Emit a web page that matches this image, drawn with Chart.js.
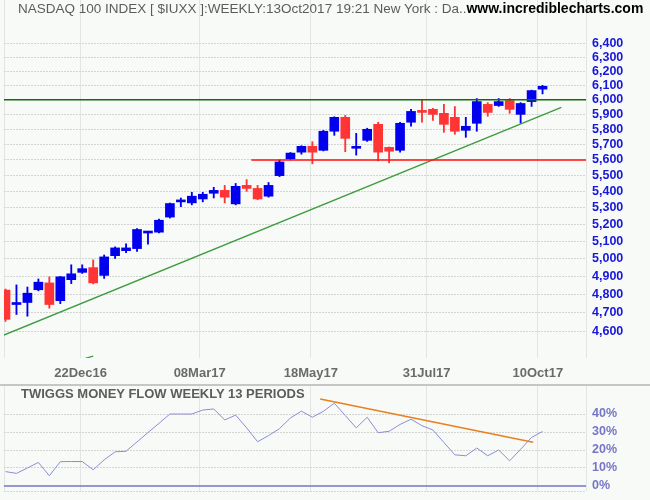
<!DOCTYPE html>
<html>
<head>
<meta charset="utf-8">
<script src="https://cdn.jsdelivr.net/npm/chart.js@4.4.1/dist/chart.umd.min.js"></script>
<style>
  html, body { margin: 0; padding: 0; background: #f8faf8; }
  #wrap { position: relative; width: 650px; height: 500px; overflow: hidden; font-family: 'Liberation Sans', Arial, sans-serif; }
  #priceBox { position: absolute; left: 0; top: 0; width: 650px; height: 384px; }
  #sep { position: absolute; left: 0; top: 384px; width: 650px; height: 2px; background: #c6c6c6; }
  #flowBox { position: absolute; left: 0; top: 386px; width: 650px; height: 114px; }
  .ttl { position: absolute; white-space: nowrap; line-height: 16px; z-index: 2; }
  #t1 { left: 18px; top: 0; font-size: 13.5px; color: #5c5c5c; }
  #t1 b { color: #000; font-size: 14px; }
  #t2 { left: 21px; top: 386px; font-size: 13px; font-weight: bold; color: #5c5c5c; }
</style>
</head>
<body>
<div id="wrap">
  <div class="ttl" id="t1">NASDAQ 100 INDEX [ $IUXX ]:WEEKLY:13Oct2017 19:21 New York : Da..<b>www.incrediblecharts.com</b></div>
  <div id="priceBox"><canvas id="priceChart" width="650" height="384"></canvas></div>
  <div id="sep"></div>
  <div class="ttl" id="t2">TWIGGS MONEY FLOW WEEKLY 13 PERIODS</div>
  <div id="flowBox"><canvas id="flowChart" width="650" height="114"></canvas></div>
</div>
<script>
// weekly bars, week ending
const weeks = [
  '2016-11-04', '2016-11-11', '2016-11-18', '2016-11-25', '2016-12-02', '2016-12-09', '2016-12-16', '2016-12-23',
  '2016-12-30', '2017-01-06', '2017-01-13', '2017-01-20', '2017-01-27', '2017-02-03', '2017-02-10', '2017-02-17',
  '2017-02-24', '2017-03-03', '2017-03-10', '2017-03-17', '2017-03-24', '2017-03-31', '2017-04-07', '2017-04-14',
  '2017-04-21', '2017-04-28', '2017-05-05', '2017-05-12', '2017-05-19', '2017-05-26', '2017-06-02', '2017-06-09',
  '2017-06-16', '2017-06-23', '2017-06-30', '2017-07-07', '2017-07-14', '2017-07-21', '2017-07-28', '2017-08-04',
  '2017-08-11', '2017-08-18', '2017-08-25', '2017-09-01', '2017-09-08', '2017-09-15', '2017-09-22', '2017-09-29',
  '2017-10-06', '2017-10-13'
];
const opens = [
  4824, 4745, 4756, 4826, 4864, 4766, 4882, 4923, 4950, 4906, 5018, 5047, 5059, 5150, 5155, 5245,
  5337, 5331, 5355, 5390, 5408, 5325, 5439, 5420, 5372, 5500, 5606, 5650, 5688, 5662, 5787, 5880,
  5675, 5727, 5833, 5681, 5662, 5847, 5927, 5934, 5907, 5880, 5793, 5840, 5968, 5960, 5994, 5900,
  5987, 6073
];
const highs = [
  4830, 4853, 4841, 4886, 4898, 4900, 4966, 4966, 4994, 5022, 5069, 5086, 5177, 5160, 5233, 5330,
  5361, 5396, 5396, 5427, 5439, 5451, 5475, 5439, 5457, 5600, 5648, 5692, 5718, 5793, 5884, 5893,
  5773, 5807, 5847, 5684, 5847, 5934, 6002, 5941, 5968, 5953, 5880, 6008, 5980, 6008, 6008, 5980,
  6066, 6100
];
const lows = [
  4654, 4691, 4682, 4820, 4725, 4750, 4860, 4917, 4858, 4889, 5002, 5036, 5042, 5085, 5150, 5239,
  5308, 5319, 5337, 5361, 5331, 5319, 5402, 5350, 5366, 5494, 5600, 5637, 5575, 5658, 5760, 5653,
  5631, 5720, 5594, 5581, 5650, 5820, 5847, 5860, 5780, 5767, 5747, 5787, 5887, 5954, 5907, 5840,
  5954, 6040
];
const closes = [
  4665, 4755, 4807, 4868, 4745, 4898, 4915, 4944, 4864, 5011, 5063, 5063, 5171, 5158, 5226, 5327,
  5349, 5372, 5384, 5408, 5366, 5433, 5420, 5355, 5439, 5587, 5644, 5688, 5650, 5787, 5880, 5740,
  5681, 5800, 5650, 5656, 5840, 5920, 5913, 5900, 5833, 5787, 5820, 5987, 5913, 5987, 5934, 5974,
  6063, 6093
];
// Twiggs money flow, %
const moneyFlow = [
  8.0, 7.0, 10.0, 13.1, 5.7, 13.5, 13.6, 13.6, 9.0, 14.5, 19.0, 19.3, 24.5, 29.7, 34.8, 40.0,
  40.0, 40.0, 42.2, 42.8, 36.7, 39.4, 32.3, 24.6, 28.0, 31.9, 37.8, 41.6, 38.2, 41.5, 46.0, 39.2,
  32.3, 38.2, 29.6, 30.4, 34.2, 37.1, 33.5, 31.1, 24.2, 17.3, 16.8, 21.1, 16.8, 20.0, 14.0, 20.4,
  27.0, 30.3
];

const priceTicks = [4600, 4700, 4800, 4900, 5000, 5100, 5200, 5300, 5400, 5500, 5600, 5700, 5800, 5900, 6000, 6100, 6200, 6300, 6400];
const flowTicks = [0, 10, 20, 30, 40];
const dateTicks = ['2016-12-22', '2017-03-08', '2017-05-18', '2017-07-31', '2017-10-10'];
const dateTickLabels = ['22Dec16', '08Mar17', '18May17', '31Jul17', '10Oct17'];

// drawn lines: [date, value]
const resistance = [['2016-11-01', 6000], ['2017-11-15', 6000]];
const support = [['2017-04-10', 5600], ['2017-11-15', 5600]];
const trendLine = [['2016-11-03', 4582], ['2017-10-25', 5948]];
const lowerStub = [['2016-12-25', 4461], ['2016-12-30', 4473]];
const flowTrend = [['2017-05-24', 48.3], ['2017-10-07', 24.3]];
const flowZero = [['2016-11-01', 0], ['2017-11-15', 0]];

const FONT = "'Liberation Sans', Arial, sans-serif";
const BLUE = '#0000ee';
const RED = '#ff3535';
const DAY = 86400000;
const toDay = (s) => Date.parse(s) / DAY;
const pts = (arr) => arr.map(([d, v]) => ({ x: toDay(d), y: v }));

// 4px left margin, 582px plot, about 10.96px per week
const xMin = toDay(weeks[0]) - 0.96;
const xMax = xMin + 582 * 7 / 10.96;

function xAxis(showLabels, height) {
  return {
    type: 'linear',
    min: xMin,
    max: xMax,
    offset: false,
    grid: { color: '#e3e5e3', offset: false, drawTicks: false },
    border: { display: false },
    ticks: {
      display: showLabels,
      autoSkip: false,
      maxRotation: 0,
      padding: 8,
      color: '#6a6a6a',
      font: { family: FONT, size: 13, weight: 'bold' },
      callback: (v, i) => (i > 0 && i <= dateTickLabels.length ? dateTickLabels[i - 1] : ''),
    },
    afterBuildTicks: (s) => {
      s.ticks = [xMin, ...dateTicks.map(toDay), xMax].map((v) => ({ value: v }));
    },
    afterFit: (s) => {
      s.height = height;
      s.paddingLeft = 0;
      s.paddingRight = 0;
    },
  };
}

function lineSet(data, color, width) {
  return {
    type: 'line',
    data: pts(data),
    borderColor: color,
    borderWidth: width,
    pointRadius: 0,
    tension: 0,
    order: 0,
  };
}

const candleColors = closes.map((c, i) => (c >= opens[i] ? BLUE : RED));
const bodies = weeks.map((d, i) => ({ x: toDay(d), y: [opens[i], closes[i]] }));
const wicks = weeks.map((d, i) => ({ x: toDay(d), y: [lows[i], highs[i]] }));

new Chart(document.getElementById('priceChart'), {
  type: 'bar',
  data: {
    datasets: [
      lineSet(resistance, '#0d6e0d', 1.5),
      lineSet(support, '#ff1010', 1.5),
      lineSet(trendLine, '#3c9c3c', 1.3),
      lineSet(lowerStub, '#3c9c3c', 1.3),
      {
        label: 'body',
        data: bodies,
        backgroundColor: candleColors,
        barThickness: 9,
        minBarLength: 2,
        grouped: false,
        order: 1,
      },
      {
        label: 'wick',
        data: wicks,
        backgroundColor: candleColors,
        barThickness: 1.2,
        grouped: false,
        order: 2,
      },
    ],
  },
  options: {
    responsive: false,
    animation: false,
    layout: { padding: { left: 4, top: 0, right: 0, bottom: 0 } },
    plugins: { legend: { display: false }, tooltip: { enabled: false } },
    scales: {
      x: xAxis(true, 26),
      y: {
        type: 'logarithmic',
        position: 'right',
        min: 4463,
        max: 6726,
        grid: { color: '#d3d5d3', drawTicks: false },
        border: { display: false, dash: [2, 1] },
        ticks: {
          autoSkip: false,
          padding: 6,
          color: '#1616dc',
          font: { family: FONT, size: 12.5, weight: 'bold' },
          callback: (v) => Number(v).toLocaleString('en-US'),
        },
        afterBuildTicks: (s) => {
          s.ticks = priceTicks.map((v) => ({ value: v }));
        },
        afterFit: (s) => {
          s.width = 64;
          s.paddingTop = 0;
          s.paddingBottom = 0;
        },
      },
    },
  },
});

const flowMin = -2.78;
new Chart(document.getElementById('flowChart'), {
  type: 'line',
  data: {
    datasets: [
      {
        data: weeks.map((d, i) => ({ x: toDay(d), y: moneyFlow[i] })),
        borderColor: '#8c8cd6',
        borderWidth: 1,
        pointRadius: 0,
        tension: 0,
        order: 1,
      },
      lineSet(flowZero, '#7676c6', 1.5),
      lineSet(flowTrend, '#e8801e', 1.5),
    ],
  },
  options: {
    responsive: false,
    animation: false,
    layout: { padding: { left: 4, top: 0, right: 0, bottom: 0 } },
    plugins: { legend: { display: false }, tooltip: { enabled: false } },
    scales: {
      x: xAxis(false, 9),
      y: {
        type: 'linear',
        position: 'right',
        min: flowMin,
        max: 55.56,
        grid: {
          color: (c) => (c.tick && c.tick.value === 0 ? 'rgba(0,0,0,0)' : '#d3d5d3'),
          drawTicks: false,
        },
        border: { display: false, dash: [2, 1] },
        ticks: {
          autoSkip: false,
          padding: 6,
          color: '#7676c6',
          font: { family: FONT, size: 12.5, weight: 'bold' },
          callback: (v) => (flowTicks.includes(v) ? v + '%' : ''),
        },
        afterBuildTicks: (s) => {
          s.ticks = [flowMin, ...flowTicks].map((v) => ({ value: v }));
        },
        afterFit: (s) => {
          s.width = 64;
          s.paddingTop = 0;
          s.paddingBottom = 0;
        },
      },
    },
  },
});
</script>
</body>
</html>
